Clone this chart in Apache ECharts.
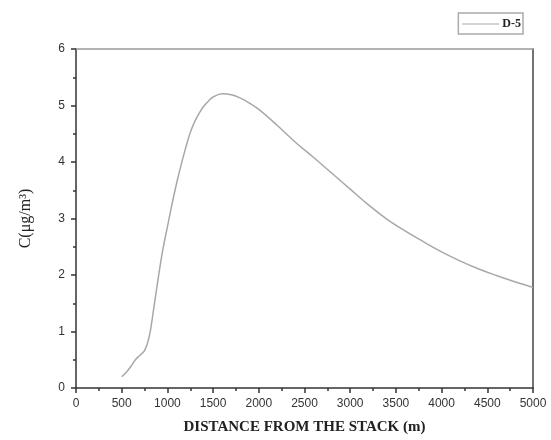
<!DOCTYPE html>
<html>
<head>
<meta charset="utf-8">
<script src="https://cdn.jsdelivr.net/npm/echarts@6/dist/echarts.min.js"></script>
<style>
  html, body { margin: 0; padding: 0; background: #fff; }
  #chart { width: 551px; height: 440px; }
</style>
</head>
<body>
<div id="chart"></div>
<script>
// distance from the stack (m) and concentration (ug/m3)
const distance = [500, 550, 600, 650, 700, 750, 800, 850, 900, 950, 1000, 1050, 1100, 1150, 1200,
  1250, 1300, 1350, 1400, 1450, 1500, 1600, 1700, 1800, 1900, 2000, 2200, 2400, 2600, 2800,
  3000, 3200, 3400, 3600, 3800, 4000, 4200, 4400, 4600, 4800, 5000];
const concD5 = [0.2, 0.28, 0.38, 0.5, 0.58, 0.66, 0.9, 1.4, 1.95, 2.45, 2.85, 3.25, 3.62, 3.95, 4.25,
  4.52, 4.72, 4.87, 4.99, 5.08, 5.15, 5.21, 5.19, 5.13, 5.04, 4.93, 4.65, 4.35, 4.08, 3.8,
  3.52, 3.24, 2.99, 2.78, 2.59, 2.41, 2.25, 2.11, 1.99, 1.88, 1.78];
const seriesName = 'D-5';

const chart = echarts.init(document.getElementById('chart'), null, { renderer: 'canvas' });

const tickFont = { color: '#333', fontFamily: 'Liberation Sans, Arial, sans-serif', fontSize: 12 };
const titleFont = { color: '#222', fontFamily: 'Liberation Serif, Times New Roman, serif', fontSize: 15, fontWeight: 'bold' };

chart.setOption({
  animation: false,
  backgroundColor: '#fff',
  grid: { left: 76, right: 18, top: 49, bottom: 52 },
  legend: {
    right: 28, top: 13,
    data: [{ name: seriesName, icon: 'rect' }],
    borderColor: '#aaa', borderWidth: 1.5,
    padding: [5, 2, 4, 4],
    itemWidth: 37, itemHeight: 1, itemGap: 2,
    textStyle: { fontFamily: 'Liberation Serif, serif', fontSize: 12, fontWeight: 'bold', color: '#222', padding: [0, 0, 0, -2] }
  },
  xAxis: [{
    type: 'value', min: 0, max: 5000, interval: 500,
    name: 'DISTANCE FROM THE STACK (m)', nameLocation: 'middle', nameGap: 32,
    nameTextStyle: titleFont,
    axisLine: { lineStyle: { color: '#333', width: 1.5 } },
    axisTick: { length: 5, lineStyle: { color: '#333', width: 1.5 } },
    minorTick: { show: true, splitNumber: 2, length: 3, lineStyle: { color: '#333', width: 1.5 } },
    axisLabel: Object.assign({ margin: 10, formatter: v => String(v) }, tickFont),
    splitLine: { show: false }
  }, {
    type: 'value', min: 0, max: 5000, position: 'top',
    axisLine: { show: true, onZero: false, lineStyle: { color: '#999', width: 1.5 } },
    axisTick: { show: false }, axisLabel: { show: false }, splitLine: { show: false }
  }],
  yAxis: [{
    type: 'value', min: 0, max: 6, interval: 1,
    name: 'C(μg/m³)', nameLocation: 'middle', nameGap: 42,
    nameTextStyle: Object.assign({}, titleFont, { fontSize: 16, fontWeight: 'normal' }),
    axisLine: { show: true, lineStyle: { color: '#333', width: 1.5 } },
    axisTick: { show: true, length: 5, lineStyle: { color: '#333', width: 1.5 } },
    minorTick: { show: true, splitNumber: 2, length: 3, lineStyle: { color: '#333', width: 1.5 } },
    axisLabel: Object.assign({ margin: 11 }, tickFont),
    splitLine: { show: false }
  }, {
    type: 'value', min: 0, max: 6, position: 'right',
    axisLine: { show: true, onZero: false, lineStyle: { color: '#444', width: 1.5 } },
    axisTick: { show: false }, axisLabel: { show: false }, splitLine: { show: false }
  }],
  series: [{
    name: seriesName,
    type: 'line',
    data: distance.map((d, i) => [d, concD5[i]]),
    symbol: 'none',
    smooth: 0.4,
    lineStyle: { color: '#a8a8a8', width: 1.5 },
    itemStyle: { color: '#a8a8a8' }
  }]
});
</script>
</body>
</html>
